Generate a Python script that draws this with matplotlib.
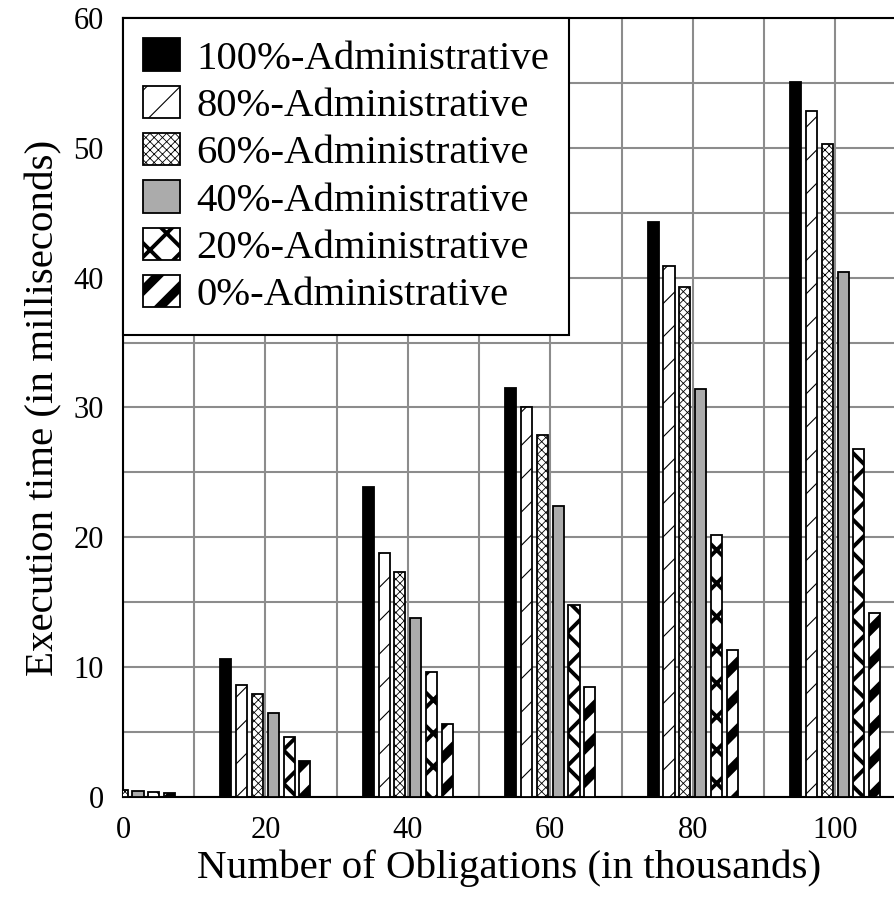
#!/usr/bin/env python3
"""Execution time vs number of obligations, grouped bars per admin share."""
import matplotlib
matplotlib.use("Agg")
import matplotlib.pyplot as plt
import numpy as np

# x positions (thousands of obligations)
obligations = [1, 20, 40, 60, 80, 100]
series_labels = ["100%-Administrative", "80%-Administrative", "60%-Administrative",
                 "40%-Administrative", "20%-Administrative", "0%-Administrative"]
admin_100 = [0.6, 10.6, 23.9, 31.5, 44.3, 55.1]
admin_80 = [0.55, 8.6, 18.8, 30.0, 40.9, 52.8]
admin_60 = [0.5, 7.9, 17.3, 27.9, 39.3, 50.3]
admin_40 = [0.45, 6.5, 13.8, 22.4, 31.4, 40.4]
admin_20 = [0.35, 4.6, 9.6, 14.8, 20.2, 26.8]
admin_0 = [0.3, 2.8, 5.6, 8.5, 11.3, 14.2]

series = [admin_100, admin_80, admin_60, admin_40, admin_20, admin_0]
# (facecolor, hatch, hatch linewidth)
styles = [
    ("black", None, 1.0),
    ("white", "/", 0.8),
    ("white", "xxxx", 0.6),
    ("#ababab", None, 1.0),
    ("white", "x", 2.8),
    ("white", "/", 6.5),
]

plt.rcParams["font.family"] = ["Liberation Serif", "DejaVu Serif"]

fig = plt.figure(figsize=(8.95, 8.99), dpi=100)
ax = fig.add_axes([0.1374, 0.1135, 0.8626, 0.8665])

x = np.array(obligations, dtype=float)
pitch = 2.22
width = 1.55
for i, (vals, lab, (fc, hatch, hlw)) in enumerate(zip(series, series_labels, styles)):
    with plt.rc_context({"hatch.linewidth": hlw}):
        bars = ax.bar(x + (i - 2.5) * pitch, vals, width=width, color=fc,
                      edgecolor="black", linewidth=1.3, hatch=hatch,
                      label=lab, zorder=3)
    for b in bars:
        if hasattr(b, "set_hatch_linewidth"):
            b.set_hatch_linewidth(hlw)

ax.set_xlim(0, 108.4)
ax.set_ylim(0, 60)
ax.set_xticks(np.arange(0, 101, 20))
ax.set_xticks(np.arange(0, 101, 10), minor=True)
ax.set_yticks(np.arange(0, 61, 10))
ax.set_yticks(np.arange(0, 61, 5), minor=True)
ax.grid(which="both", color="#8c8c8c", linewidth=1.5, zorder=0)
ax.set_axisbelow(True)
ax.tick_params(which="both", length=0, labelsize=22)
ax.tick_params(axis="x", pad=14)
ax.tick_params(axis="y", pad=14)
for s in ["left", "bottom", "top"]:
    ax.spines[s].set_linewidth(1.5)
ax.spines["right"].set_visible(False)

ax.set_xlabel("Number of Obligations (in thousands)", fontsize=29.5, labelpad=3)
ax.set_ylabel("Execution time (in milliseconds)", fontsize=29.5, labelpad=8)

leg = ax.legend(loc="upper left", borderaxespad=0, fontsize=29.3,
                handlelength=0.9, handleheight=0.84, handletextpad=0.4,
                labelspacing=0.2, borderpad=0.5, fancybox=False,
                framealpha=1, edgecolor="black")
leg.get_frame().set_linewidth(1.5)
leg.set_zorder(5)
for h, (fc, hatch, hlw) in zip(leg.legend_handles, styles):
    if hasattr(h, "set_hatch_linewidth"):
        h.set_hatch_linewidth(hlw)

plt.savefig("out.png", dpi=100, facecolor="white")
plt.close(fig)
